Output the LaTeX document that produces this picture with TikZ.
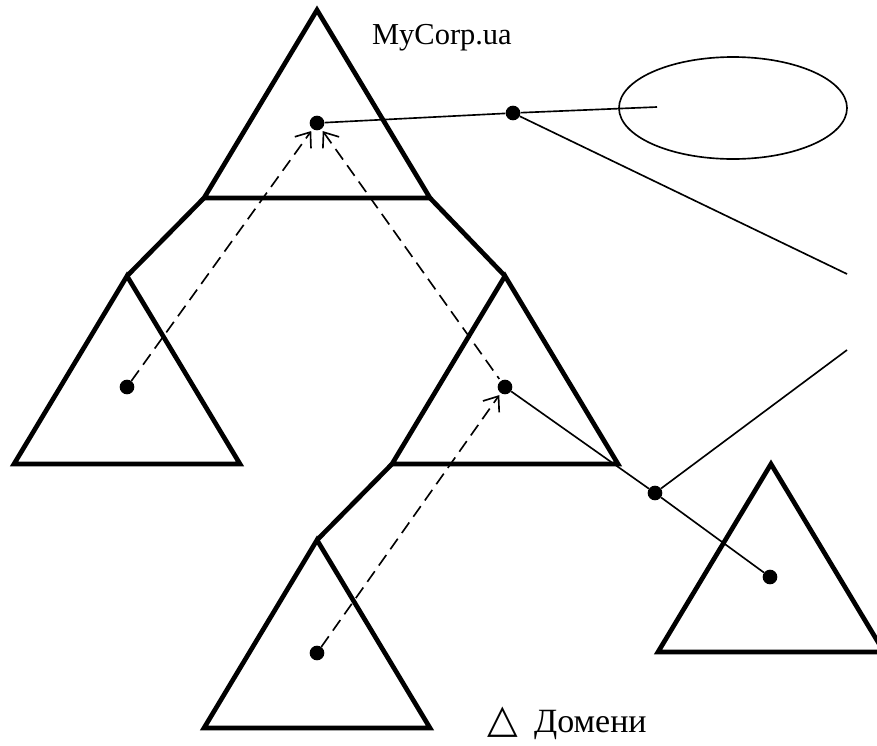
\documentclass[tikz,border=0pt]{standalone}
\usepackage{fontspec}
\setmainfont{Liberation Serif}
\newfontfamily\symfont{DejaVu Sans}
\usetikzlibrary{arrows.meta, shapes.geometric}

\begin{document}
\begin{tikzpicture}[x=0.03cm,y=-0.03cm]
		\tikzstyle{every node} = [font = \fontsize{26}{30}\selectfont]
		\tikzstyle{domtri} = [line width=4pt, line join=miter]
		\tikzstyle{link} = [line width=1.4pt]
		\tikzstyle{dot} = [circle, fill, inner sep=0pt, minimum size=12.5pt]
		\tikzstyle{trust} = [line width=1.4pt, dash pattern=on 11pt off 6pt,
			-{Straight Barb[length=11pt,width=17pt,line width=1.4pt]}]
		\clip (0,0) rectangle (877,745);
		\useasboundingbox (0,0) rectangle (877,745);
		% domain triangles: apex, left and right corners
		\foreach \n/\x/\y in {top/317/10, left/127/276, mid/505/276, bot/317/540, right/771/464}{
			\coordinate (\n-a) at (\x,\y);
			\coordinate (\n-l) at (\x-113,\y+188);
			\coordinate (\n-r) at (\x+113,\y+188);
			\draw[domtri] (\n-a) -- (\n-l) -- (\n-r) -- cycle;
		}
		% tree branches
		\draw[domtri] (top-l) -- (left-a);
		\draw[domtri] (top-r) -- (mid-a);
		\draw[domtri] (mid-l) -- (bot-a);
		% dots
		\node[dot] (dtop) at (317,123) {};
		\node[dot] (dlink) at (513,113) {};
		\node[dot] (dleft) at (127,387) {};
		\node[dot] (dmid) at (505,387) {};
		\node[dot] (djoin) at (655,493) {};
		\node[dot] (dright) at (770,577) {};
		\node[dot] (dbot) at (317,653) {};
		% zoom ellipse and callout lines
		\node[draw, link, ellipse, inner sep=0pt, minimum width=6.84cm, minimum height=3.06cm] (cloud) at (733,108) {};
		\coordinate (cin) at (657,107);
		\coordinate (zup) at (847,274);
		\coordinate (zdown) at (847,350);
		\draw[link] (dtop) -- (dlink) -- (cin);
		\draw[link] (dlink) -- (zup);
		\draw[link] (dmid) -- (djoin) -- (dright);
		\draw[link] (djoin) -- (zdown);
		% trust relations
		\draw[trust, shorten >=2pt] (dleft) -- (dtop);
		\draw[trust, {Straight Barb[length=11pt,width=17pt,line width=1.4pt]}-, shorten <=2pt, shorten >=2pt] (dtop) -- (dmid);
		\draw[trust, shorten >=2pt] (dbot) -- (dmid);
		% labels
		\node[anchor=base west] (corp) at (368,44) {MyCorp.ua};
		\node[anchor=base west, font=\fontsize{29}{33}\selectfont] (legend) at (483,732) {{\symfont\fontsize{34}{36}\selectfont\char"25B3}\hspace{14pt}Домени};
\end{tikzpicture}
\end{document}
